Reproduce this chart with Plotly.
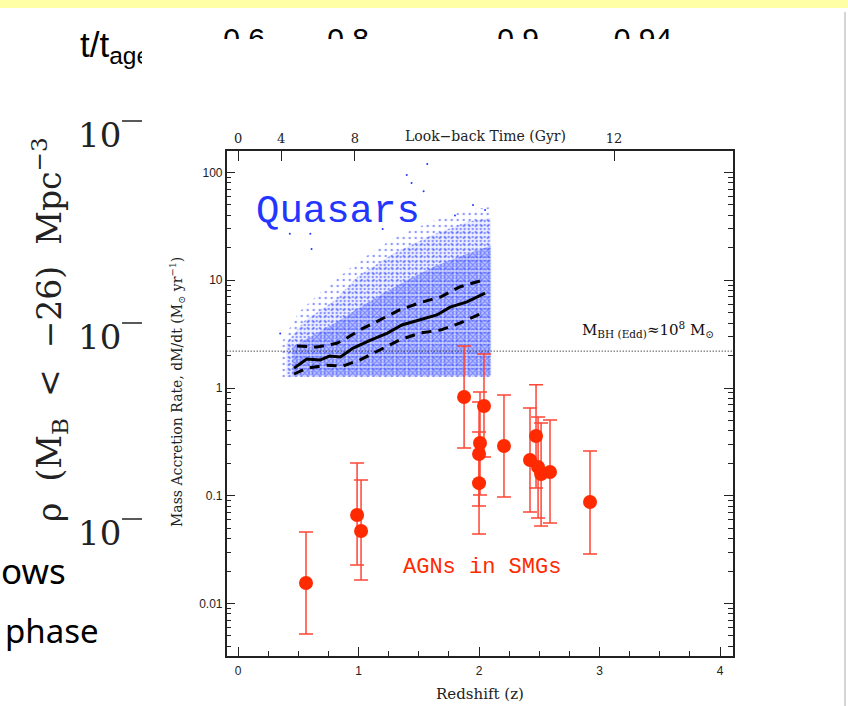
import plotly.graph_objects as go

W, H = 848, 706
def px(x): return x / W
def py(y): return 1 - y / H

# ---------------- data ----------------
# SMG AGNs (redshift, accretion rate, error bar upper/lower values)
smg_z = [0.564, 0.988, 1.021, 1.876, 2.041, 2.008, 2.0, 2.0, 2.207, 2.473, 2.423, 2.49, 2.515, 2.589, 2.921]
smg_rate = [0.0155, 0.0663, 0.0471, 0.825, 0.681, 0.309, 0.244, 0.131, 0.290, 0.359, 0.215, 0.185, 0.159, 0.166, 0.0875]
smg_hi = [0.0461, 0.201, 0.140, 2.45, 2.07, 0.918, 0.741, 0.391, 0.861, 1.07, 0.652, 0.538, 0.473, 0.504, 0.260]
smg_lo = [0.00521, 0.0228, 0.0165, 0.277, 0.229, 0.1016, 0.0804, 0.0442, 0.0975, 0.118, 0.0706, 0.0622, 0.0524, 0.0558, 0.0288]

# Quasar median and 1-sigma (dashed) curves
med_z = [0.465, 0.57, 0.68, 0.76, 0.85, 0.955, 1.1, 1.24, 1.36, 1.51, 1.65, 1.76, 1.9, 2.05]
med_rate = [1.53, 1.86, 1.82, 1.98, 1.94, 2.35, 2.79, 3.24, 3.85, 4.27, 4.77, 5.64, 6.3, 7.6]
up_z = [0.49, 0.655, 0.82, 0.9, 1.01, 1.18, 1.34, 1.51, 1.68, 1.84, 2.03]
up_rate = [2.45, 2.4, 2.6, 2.9, 3.45, 4.27, 5.3, 6.2, 7.0, 8.7, 10.0]
lo_z = [0.465, 0.57, 0.74, 0.87, 1.01, 1.18, 1.34, 1.51, 1.68, 1.84, 2.03]
lo_rate = [1.35, 1.53, 1.63, 1.6, 1.82, 2.25, 2.79, 3.24, 3.45, 4.0, 5.0]

# Quasar cloud envelopes (sparse halo, intermediate, dense core)
halo_z = [0.35, 0.5, 0.7, 1.0, 1.3, 1.6, 1.9, 2.1]
halo_top = [2.5, 5.0, 8.0, 15.0, 25.0, 35.0, 45.0, 48.0]
halo_bottom = 1.25
mid_z = [0.4, 0.55, 0.8, 1.0, 1.3, 1.6, 1.9, 2.1]
mid_top = [2.6, 4.2, 6.5, 11.0, 18.0, 26.0, 35.0, 38.0]
mid_bottom = 1.28
core_z = [0.45, 0.6, 0.8, 1.0, 1.2, 1.4, 1.6, 1.8, 2.0, 2.1]
core_top = [2.4, 3.0, 4.0, 5.5, 7.5, 10.0, 13.0, 16.0, 19.0, 21.0]
core_bottom = 1.3
# a few isolated quasars
out_z = [1.57, 1.40, 1.44, 1.54, 0.43, 0.60, 0.61, 0.35, 1.95, 2.05, 1.80, 1.20]
out_rate = [120, 95, 80, 67, 27, 27, 19.5, 3.2, 50, 45, 40, 30]

edd_rate = 2.2            # M_BH(Edd) ~ 1e8 Msun
x_range = [-0.094, 4.105]
y_range_log = [-2.487, 2.2]

# top axis: look-back time ticks (Gyr) at redshift positions
lb_labels = ["0", "4", "8", "12"]
lb_z = [0.0, 0.357, 0.97, 3.12]

y_major = [0.01, 0.1, 1, 10, 100]
y_major_txt = ["0.01", "0.1", "1", "10", "100"]
y_minor = [m * 10 ** e for e in range(-3, 3) for m in range(2, 10)]

# slide background text
slide_digits = ["0.6", "0.8", "0.9", "0.94"]
slide_digit_x = [244, 348, 518, 643]

BLUE = "#2236ff"
RED = "#ff2a00"

fig = go.Figure()

def closed(zs, tops, bottom):
    xs = list(zs) + list(zs)[::-1] + [zs[0]]
    ys = list(tops) + [bottom] * len(zs) + [tops[0]]
    return xs, ys

layers = [
    (halo_z, halo_top, halo_bottom, "rgba(0,0,0,0)", 6, 0.14),
    (mid_z, mid_top, mid_bottom, "rgba(120,135,255,0.12)", 4, 0.28),
    (core_z, core_top, core_bottom, "rgba(100,118,255,0.22)", 3, 0.4),
]
for zs, tops, bot, bg, sz, sol in layers:
    xx, yy = closed(zs, tops, bot)
    fig.add_trace(go.Scatter(x=xx, y=yy, mode="lines", line=dict(width=0), fill="toself",
                             fillcolor=bg,
                             fillpattern=dict(shape=".", fgcolor=BLUE, bgcolor=bg, size=sz, solidity=sol),
                             hoverinfo="skip", showlegend=False))
fig.add_trace(go.Scatter(x=out_z, y=out_rate, mode="markers",
                         marker=dict(size=2, color=BLUE), showlegend=False))

# Eddington line
fig.add_trace(go.Scatter(x=x_range, y=[edd_rate, edd_rate], mode="lines",
                         line=dict(color="black", width=1, dash="1px,2px"), showlegend=False))

# quasar curves
fig.add_trace(go.Scatter(x=up_z, y=up_rate, mode="lines", line=dict(color="black", width=3, dash="10px,7px"), showlegend=False))
fig.add_trace(go.Scatter(x=lo_z, y=lo_rate, mode="lines", line=dict(color="black", width=3, dash="10px,7px"), showlegend=False))
fig.add_trace(go.Scatter(x=med_z, y=med_rate, mode="lines", line=dict(color="black", width=3), showlegend=False))

# SMG points
err_p = [h - v for h, v in zip(smg_hi, smg_rate)]
err_m = [v - l for v, l in zip(smg_rate, smg_lo)]
fig.add_trace(go.Scatter(x=smg_z, y=smg_rate, mode="markers",
                         marker=dict(size=14, color=RED),
                         error_y=dict(type="data", symmetric=False, array=err_p, arrayminus=err_m,
                                      color="#ff4535", thickness=1.5, width=7),
                         showlegend=False))

# top look-back axis carrier
fig.add_trace(go.Scatter(x=lb_z, y=[1, 1, 1, 1], xaxis="x2", yaxis="y", mode="markers",
                         marker=dict(opacity=0), hoverinfo="skip", showlegend=False))

# slide texts that are cut off by the pasted figure (clipped subplots)
fig.add_trace(go.Scatter(x=slide_digit_x, y=[41] * 4, xaxis="x4", yaxis="y4", mode="text",
                         text=slide_digits, textposition="middle center", cliponaxis=True,
                         textfont=dict(family="Liberation Sans", size=30, color="black"),
                         hoverinfo="skip", showlegend=False))
fig.add_trace(go.Scatter(x=[80], y=[48], xaxis="x3", yaxis="y3", mode="text",
                         text=["t/t<sub>age</sub>"], textposition="middle right", cliponaxis=True,
                         textfont=dict(family="Liberation Sans", size=35, color="black"),
                         hoverinfo="skip", showlegend=False))

tickfont = dict(family="Liberation Sans", size=12, color="#222")
serif = "DejaVu Serif"

fig.update_layout(
    width=W, height=H, margin=dict(l=0, r=0, t=0, b=0),
    paper_bgcolor="white", plot_bgcolor="rgba(0,0,0,0)",
    xaxis=dict(domain=[px(226.7), px(732.7)], range=x_range, showgrid=False, zeroline=False,
               showline=True, linecolor="#222", linewidth=1.5, mirror=True,
               ticks="inside", ticklen=9, tickwidth=1, tickcolor="#222",
               tickvals=[0, 1, 2, 3, 4], ticktext=["0", "1", "2", "3", "4"], tickfont=tickfont,
               ticklabelstandoff=3,
               minor=dict(ticks="inside", ticklen=5, dtick=0.25, tickcolor="#222", showgrid=False),
               anchor="y"),
    xaxis2=dict(overlaying="x", side="top", anchor="y", range=x_range, showgrid=False, zeroline=False,
                showline=False, ticks="inside", ticklen=10, tickcolor="#222", ticklabelstandoff=4,
                tickvals=lb_z, ticktext=lb_labels, tickfont=dict(family=serif, size=13, color="#222")),
    yaxis=dict(domain=[py(656), py(151)], type="log", range=y_range_log, showgrid=False, zeroline=False,
               showline=True, linecolor="#222", linewidth=1.5, mirror="ticks",
               ticks="inside", ticklen=9, tickcolor="#222",
               tickvals=y_major, ticktext=y_major_txt, tickfont=tickfont,
               minor=dict(ticks="inside", ticklen=5, tickmode="array", tickvals=y_minor, tickcolor="#222", showgrid=False),
               anchor="x"),
    xaxis3=dict(domain=[0, px(142)], range=[0, 142], visible=False, anchor="y3"),
    yaxis3=dict(domain=[0, py(8)], range=[706, 8], visible=False, anchor="x3"),
    xaxis4=dict(domain=[0, 1], range=[0, 848], visible=False, anchor="y4"),
    yaxis4=dict(domain=[py(39), py(8)], range=[39, 8], visible=False, anchor="x4"),
)

ann = []
def A(text, x, y, size, family, color="black", xanchor="center", yanchor="middle", angle=0):
    ann.append(dict(text=text, x=px(x), y=py(y), xref="paper", yref="paper", showarrow=False,
                    xanchor=xanchor, yanchor=yanchor, textangle=angle,
                    font=dict(size=size, family=family, color=color)))

A("Quasars", 338, 212, 39, "Liberation Mono", BLUE)
A("AGNs in SMGs", 482, 567, 22, "Liberation Mono", RED)
A("M<sub>BH (Edd)</sub>≈10<sup>8</sup> M<sub>⊙</sub>", 716, 330, 15, serif, "#111", xanchor="right")
A("Look−back Time (Gyr)", 485, 136, 14, serif, "#222")
A("Redshift (z)", 480, 694, 15, serif, "#222")
A("Mass Accretion Rate, dM/dt (M<sub>⊙</sub> yr<sup>−1</sup>)", 177, 392, 14, serif, "#222", angle=-90)
# slide background
A("ρ  (M<sub>B</sub>  <  −26)  Mpc<sup>−3</sup>", 50, 330, 33, "DejaVu Serif", "#222", angle=-90)
for yy in [135, 337, 533]:
    A("10", 99, yy, 34, "DejaVu Serif", "#222")
A("ows", 68, 570, 35, "Noto Sans", "black", xanchor="right")
A("phase", 101, 630, 33, "Noto Sans", "black", xanchor="right")
fig.update_layout(annotations=ann)

shapes = [
    dict(type="rect", xref="paper", yref="paper", x0=0, x1=1, y0=py(8), y1=1,
         fillcolor="#ffffa6", line=dict(width=0), layer="below"),
    dict(type="line", xref="paper", yref="paper", x0=px(845), x1=px(845), y0=py(706), y1=py(12),
         line=dict(color="#aaaaaa", width=1)),
]
for yy in [121, 323, 519]:
    shapes.append(dict(type="line", xref="paper", yref="paper", x0=px(122), x1=px(142), y0=py(yy), y1=py(yy),
                       line=dict(color="#222", width=1.5)))
fig.update_layout(shapes=shapes)

fig.write_html("out.html", config={"displayModeBar": False},
               post_script="document.body.style.margin='0px';document.body.style.overflow='hidden';")
